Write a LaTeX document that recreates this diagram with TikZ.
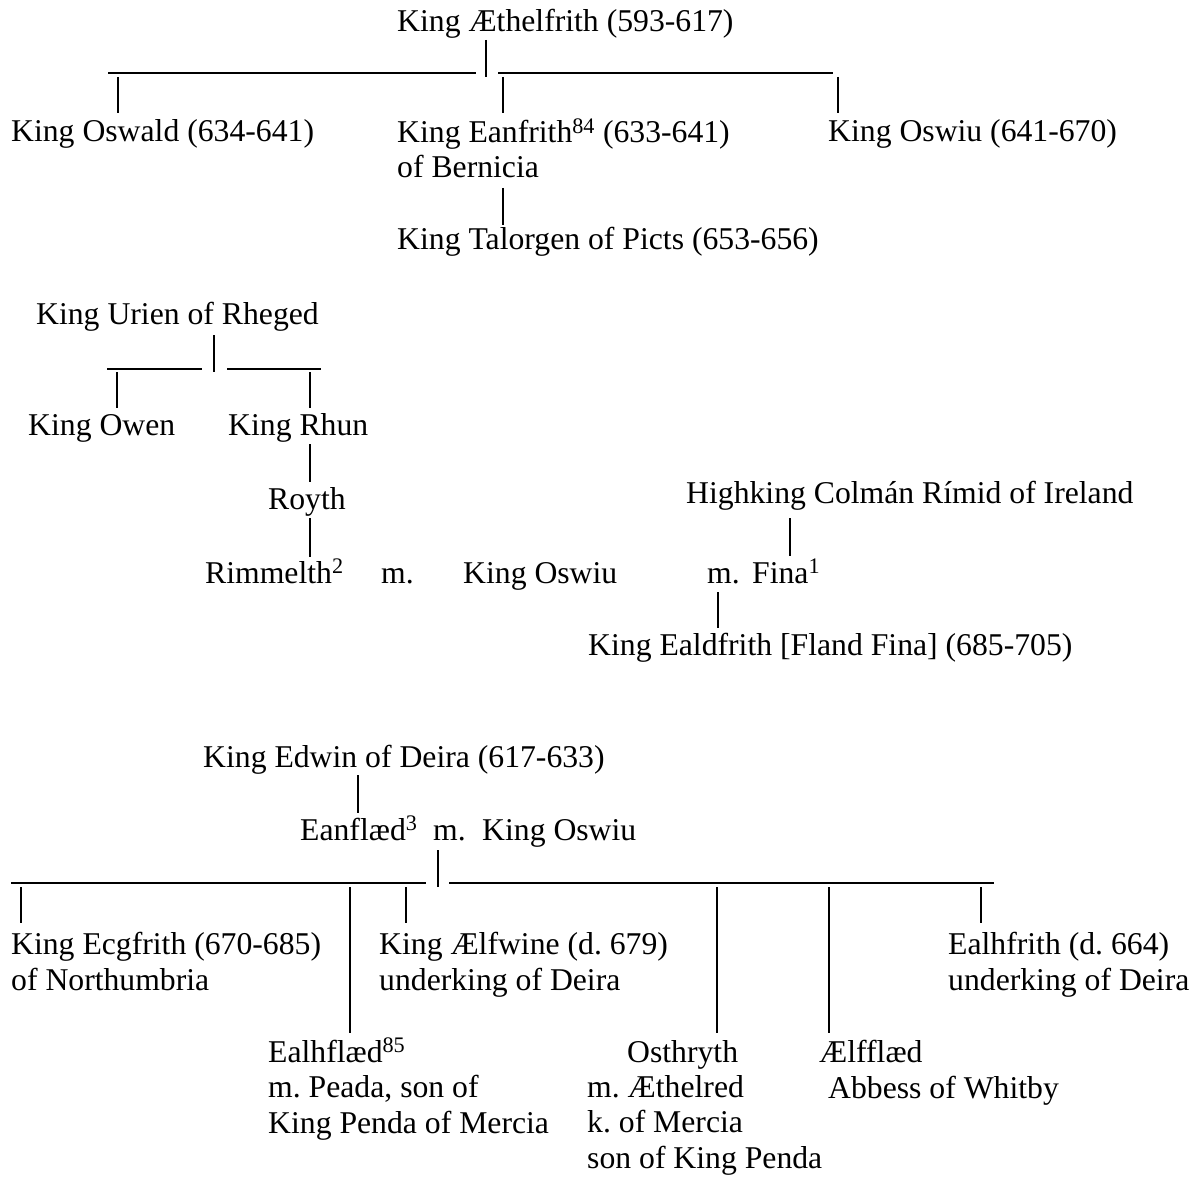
\documentclass[tikz,border=0pt]{standalone}
\usepackage{fontspec}
\setmainfont{Liberation Serif}
\usetikzlibrary{positioning}
\frenchspacing

\begin{document}
\begin{tikzpicture}[x=1pt,y=-1pt,
    person/.style={anchor=base west,inner sep=0pt,align=left,font=\fontsize{31.7}{35.5}\selectfont},
    bar/.style={line width=2.6pt}, rule/.style={line width=1.3pt}]
\useasboundingbox (0,0) rectangle (1195,1177);

% Aethelfrith (multi-line nodes sit on their last line)
\node[person] (aethelfrith) at (397,32)  {King Æthelfrith (593-617)};
\node[person] (oswald)      at (11,142)  {King Oswald (634-641)};
\node[person] (eanfrith)    at (397,178) {King Eanfrith\textsuperscript{84} (633-641)\\of Bernicia};
\node[person] (talorgen)    at (397,250) {King Talorgen of Picts (653-656)};
\node[person] (oswiu1)      at (828,142) {King Oswiu (641-670)};

\coordinate (a0) at (486,40);  \coordinate (a1) at (486,77);
\coordinate (l0) at (108,73);  \coordinate (l1) at (476,73);
\coordinate (r0) at (498,73);  \coordinate (r1) at (833,73);
\draw[bar] (a0) -- (a1);
\draw[rule] (l0) -- (l1);
\draw[rule] (r0) -- (r1);
\foreach \x/\n in {118/osw,503/ean,838/oswiu} {
  \coordinate (\n t) at (\x,77); \coordinate (\n b) at (\x,113);
  \draw[bar] (\n t) -- (\n b);
}
\coordinate (tal0) at (503,188); \coordinate (tal1) at (503,225);
\draw[bar] (tal0) -- (tal1);

% Urien
\node[person] (urien)    at (36,325)  {King Urien of Rheged};
\node[person] (owen)     at (28,435)  {King Owen};
\node[person] (rhun)     at (228,435) {King Rhun};
\node[person] (royth)    at (268,509) {Royth};
\node[person] (rimmelth) at (205,583) {Rimmelth\textsuperscript{2}};
\node[person] (m1)       at (381,583) {m.};
\node[person] (oswiu2)   at (463,583) {King Oswiu};
\node[person] (m2)       at (707,583) {m.};
\node[person] (fina)     at (752,583) {Fina\textsuperscript{1}};
\node[person] (colman)   at (686,503) {Highking Colmán Rímid of Ireland};
\node[person] (ealdfrith) at (588,655) {King Ealdfrith [Fland Fina] (685-705)};

\coordinate (u0) at (214,335); \coordinate (u1) at (214,372);
\coordinate (ul0) at (107,369); \coordinate (ul1) at (202,369);
\coordinate (ur0) at (227,369); \coordinate (ur1) at (321,369);
\draw[bar] (u0) -- (u1);
\draw[rule] (ul0) -- (ul1);
\draw[rule] (ur0) -- (ur1);
\foreach \x/\t/\b/\n in {117/372/408/owe,310/372/408/rhu,310/444/482/roy,310/518/557/rim,790/518/556/fin,718/592/628/eal} {
  \coordinate (\n t) at (\x,\t); \coordinate (\n b) at (\x,\b);
  \draw[bar] (\n t) -- (\n b);
}

% Edwin
\node[person] (edwin)    at (203,767) {King Edwin of Deira (617-633)};
\node[person] (eanflaed) at (300,840) {Eanflæd\textsuperscript{3}};
\node[person] (m3)       at (433,840) {m.};
\node[person] (oswiu3)   at (482,840) {King Oswiu};
\node[person] (ecgfrith) at (11,990)  {King Ecgfrith (670-685)\\of Northumbria};
\node[person] (aelfwine) at (379,990) {King Ælfwine (d. 679)\\underking of Deira};
\node[person] (ealhfrith) at (948,990) {Ealhfrith (d. 664)\\underking of Deira};
\node[person] (ealhflaed) at (268,1133) {Ealhflæd\textsuperscript{85}\\m. Peada, son of\\King Penda of Mercia};
\node[person] (osthryth) at (627,1062) {Osthryth};
\node[person] (aethelred) at (587,1168) {m. Æthelred\\k. of Mercia\\son of King Penda};
\node[person] (aelfflaed) at (819,1062) {Ælfflæd};
\node[person] (abbess)   at (828,1098) {Abbess of Whitby};

\coordinate (e0) at (358,775); \coordinate (e1) at (358,813);
\coordinate (o0) at (438,850); \coordinate (o1) at (438,887);
\coordinate (el0) at (11,883);  \coordinate (el1) at (426,883);
\coordinate (er0) at (449,883); \coordinate (er1) at (994,883);
\draw[bar] (e0) -- (e1);
\draw[bar] (o0) -- (o1);
\draw[rule] (el0) -- (el1);
\draw[rule] (er0) -- (er1);
\foreach \x/\b/\n in {21/923/ecg,350/1033/alh,406/923/alf,717/1033/ost,829/1033/elf,981/923/elh} {
  \coordinate (\n t) at (\x,887); \coordinate (\n b) at (\x,\b);
  \draw[bar] (\n t) -- (\n b);
}
\end{tikzpicture}
\end{document}
